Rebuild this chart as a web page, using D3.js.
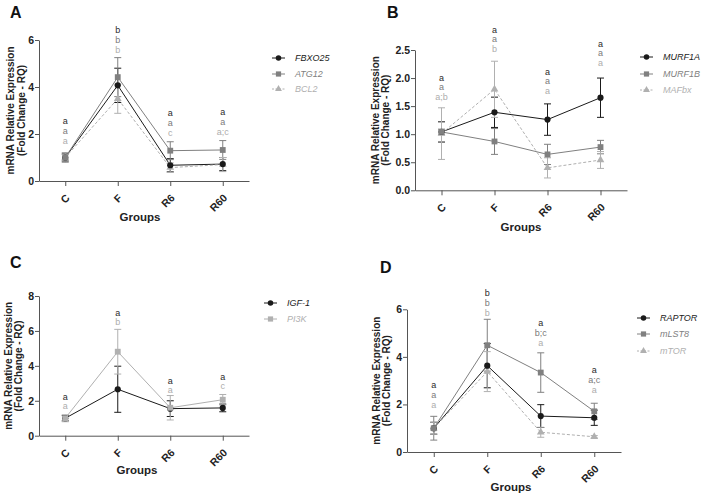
<!DOCTYPE html>
<html><head><meta charset="utf-8">
<script src="https://cdn.jsdelivr.net/npm/d3@7"></script>
<style>body{margin:0;background:#fff} text{font-family:"Liberation Sans",Arial,sans-serif}</style>
</head><body><svg id="c" width="701" height="496"></svg>
<script>
const groups = ["C","F","R6","R60"];

// Panel A
const aNames = ["FBXO25","ATG12","BCL2"];
const aFBXO25 = [1.0, 4.07, 0.67, 0.72], aFBXO25Err = [0.15, 0.73, 0.28, 0.28];
const aATG12  = [1.0, 4.42, 1.29, 1.32], aATG12Err  = [0.2, 0.83, 0.38, 0.4];
const aBCL2   = [1.0, 3.5, 0.57, 0.70],  aBCL2Err   = [0.12, 0.62, 0.2, 0.3];
const aLetters = [["a","a","a"],["b","b","b"],["a","a","c"],["a","a","a;c"]];
const aLetterBase = [1.57, 5.45, 1.91, 1.96];
const aTicks = [0,2,4,6];

// Panel B
const bNames = ["MURF1A","MURF1B","MAFbx"];
const bMURF1A = [1.04, 1.39, 1.26, 1.65], bMURF1AErr = [0.18, 0.27, 0.28, 0.35];
const bMURF1B = [1.04, 0.87, 0.64, 0.77], bMURF1BErr = [0.05, 0.23, 0.18, 0.12];
const bMAFbx  = [1.01, 1.80, 0.40, 0.54], bMAFbxErr  = [0.46, 0.5, 0.18, 0.15];
const bLetters = [["a","a","a;b"],["a","a","b"],["a","a","a"],["a","a","a"]];
const bLetterBase = [1.61, 2.47, 1.72, 2.22];
const bTicks = [0,0.5,1.0,1.5,2.0,2.5];

// Panel C
const cNames = ["IGF-1","PI3K"];
const cIGF1 = [1.0, 2.66, 1.55, 1.59], cIGF1Err = [0.15, 1.32, 0.45, 0.22];
const cPI3K = [1.0, 4.81, 1.6, 2.06],  cPI3KErr = [0.2, 1.28, 0.7, 0.3];
const cLetters = [["a","a"],["a","b"],["a","a"],["a","c"]];
const cLetterBase = [1.53, 6.32, 2.46, 2.67];
const cTicks = [0,2,4,6,8];

// Panel D
const dNames = ["RAPTOR","mLST8","mTOR"];
const dRAPTOR = [1.0, 3.63, 1.51, 1.44], dRAPTORErr = [0.25, 0.93, 0.48, 0.32];
const dMLST8  = [1.0, 4.49, 3.34, 1.71], dMLST8Err  = [0.5, 1.09, 0.83, 0.34];
const dMTOR   = [1.0, 3.38, 0.83, 0.64], dMTORErr   = [0.25, 0.84, 0.21, 0.05];
const dLetters = [["a","a","a"],["b","b","b"],["a","b;c","a"],["a","a;c","a"]];
const dLetterBase = [1.86, 5.73, 4.47, 2.48];
const dTicks = [0,2,4,6];

const colors = ["#1a1a1a","#808080","#b0b0b0"];
const letterColors = ["#2a2a2a","#7a7a7a","#adadad"];
const markers = [d3.symbolCircle, d3.symbolSquare, d3.symbolTriangle];
const markerSize = [30, 34, 26];
const svg = d3.select("#c");

const panels = [
  {lab:"A", lx:10, ly:18, x0:39, x1:249, yTop:40, yBot:181, yMax:6, ticks:aTicks, fmt:d3.format("d"),
   names:aNames, vals:[aFBXO25,aATG12,aBCL2], errs:[aFBXO25Err,aATG12Err,aBCL2Err], kinds:[0,1,2],
   sColors:[0,1,2], dashed:[false,false,true], letters:aLetters, lbase:aLetterBase, lh:10,
   legX:272, legY:[58,74,89], ytX:[10,21], groupsX:140, groupsY:221},
  {lab:"B", lx:387, ly:18, x0:415, x1:627, yTop:50, yBot:190.3, yMax:2.5, ticks:bTicks, fmt:d3.format(".1f"),
   names:bNames, vals:[bMURF1A,bMURF1B,bMAFbx], errs:[bMURF1AErr,bMURF1BErr,bMAFbxErr], kinds:[0,1,2],
   sColors:[0,1,2], dashed:[false,false,true], letters:bLetters, lbase:bLetterBase, lh:9.5,
   legX:640, legY:[57,74,90], ytX:[375,385], groupsX:521, groupsY:231},
  {lab:"C", lx:10, ly:268, x0:39, x1:249, yTop:296, yBot:435.7, yMax:8, ticks:cTicks, fmt:d3.format("d"),
   names:cNames, vals:[cIGF1,cPI3K], errs:[cIGF1Err,cPI3KErr], kinds:[0,1],
   sColors:[0,2], dashed:[false,false], letters:cLetters, lbase:cLetterBase, lh:9,
   legX:264, legY:[303,319], ytX:[8,18], groupsX:137, groupsY:474},
  {lab:"D", lx:380, ly:273, x0:407, x1:621, yTop:309.3, yBot:452, yMax:6, ticks:dTicks, fmt:d3.format("d"),
   names:dNames, vals:[dRAPTOR,dMLST8,dMTOR], errs:[dRAPTORErr,dMLST8Err,dMTORErr], kinds:[0,1,2],
   sColors:[0,1,2], dashed:[false,false,true], letters:dLetters, lbase:dLetterBase, lh:10,
   legX:637, legY:[318,334,351], ytX:[376,386], groupsX:511, groupsY:491}
];

function drawPanel(p){
  const g = svg.append("g");
  const x = d3.scalePoint().domain(groups).range([p.x0,p.x1]).padding(0.5);
  const y = d3.scaleLinear().domain([0,p.yMax]).range([p.yBot,p.yTop]);

  g.append("text").attr("x",p.lx).attr("y",p.ly).attr("font-size",16).attr("font-weight","bold").attr("fill","#111").text(p.lab);

  const xa = g.append("g").attr("transform",`translate(0,${p.yBot})`)
    .call(d3.axisBottom(x).tickSize(5).tickSizeOuter(0));
  xa.selectAll("text").attr("y",0).attr("dy","0.35em").attr("text-anchor","end")
    .attr("transform","translate(2,15) rotate(-45)")
    .attr("font-size",10.5).attr("font-weight","bold").attr("fill","#222")
    .style("font-family","'Liberation Sans',Arial,sans-serif");
  const ya = g.append("g").attr("transform",`translate(${p.x0},0)`)
    .call(d3.axisLeft(y).tickValues(p.ticks).tickFormat(p.fmt).tickSize(4).tickSizeOuter(0));
  ya.selectAll("text").attr("font-size",10.5).attr("font-weight","bold").attr("fill","#222").attr("x",-5)
    .style("font-family","'Liberation Sans',Arial,sans-serif");
  g.selectAll(".domain, .tick line").attr("stroke","#555").attr("stroke-width",1);

  const cy = (p.yTop+p.yBot)/2;
  ["mRNA Relative Expression","(Fold Change - RQ)"].forEach((t,i)=>{
    g.append("text").attr("transform",`translate(${p.ytX[i]},${cy}) rotate(-90)`)
      .attr("text-anchor","middle").attr("dy","0.35em").attr("font-size",10).attr("font-weight","bold")
      .attr("fill","#222").text(t);
  });
  g.append("text").attr("x",p.groupsX).attr("y",p.groupsY).attr("text-anchor","middle")
    .attr("font-size",11.5).attr("font-weight","bold").attr("fill","#222").text("Groups");

  p.vals.forEach((v,si)=>{
    const col = colors[p.sColors[si]];
    const line = d3.line().x((d,i)=>x(groups[i])).y(d=>y(d));
    g.append("path").attr("d",line(v)).attr("fill","none").attr("stroke",col).attr("stroke-width",1)
      .attr("stroke-dasharray",p.dashed[si]?"3,2":null);
    v.forEach((d,i)=>{
      const e = p.errs[si][i], cx = x(groups[i]);
      g.append("line").attr("x1",cx).attr("x2",cx).attr("y1",y(d+e)).attr("y2",y(d-e)).attr("stroke",col).attr("stroke-width",1);
      [d+e,d-e].forEach(yy=>g.append("line").attr("x1",cx-3.5).attr("x2",cx+3.5).attr("y1",y(yy)).attr("y2",y(yy)).attr("stroke",col).attr("stroke-width",1));
    });
  });
  const order = p.vals.length===3 ? [2,0,1] : [0,1];
  order.forEach(si=>{
    const col = colors[p.sColors[si]], k = p.kinds[si];
    p.vals[si].forEach((d,i)=>{
      g.append("path").attr("d",d3.symbol(markers[k],markerSize[k])())
        .attr("transform",`translate(${x(groups[i])},${y(d)})`).attr("fill",col);
    });
  });

  p.letters.forEach((arr,i)=>{
    const n = arr.length;
    arr.forEach((t,k)=>{
      g.append("text").attr("x",x(groups[i])).attr("y",y(p.lbase[i]) - (n-1-k)*p.lh)
        .attr("text-anchor","middle").attr("font-size",9).attr("fill",letterColors[p.sColors[k]]).text(t);
    });
  });

  p.names.forEach((nm,si)=>{
    const col = colors[p.sColors[si]], k = p.kinds[si], ly = p.legY[si];
    g.append("line").attr("x1",p.legX).attr("x2",p.legX+13).attr("y1",ly).attr("y2",ly)
      .attr("stroke",col).attr("stroke-width",1).attr("stroke-dasharray",p.dashed[si]?"2,1.5":null);
    g.append("path").attr("d",d3.symbol(markers[k],markerSize[k]*0.8)()).attr("transform",`translate(${p.legX+6.5},${ly})`).attr("fill",col);
    g.append("text").attr("x",p.legX+23).attr("y",ly).attr("dy","0.35em").attr("font-size",9)
      .attr("font-style","italic").attr("fill",col).text(nm);
  });
}
panels.forEach(drawPanel);
</script></body></html>
